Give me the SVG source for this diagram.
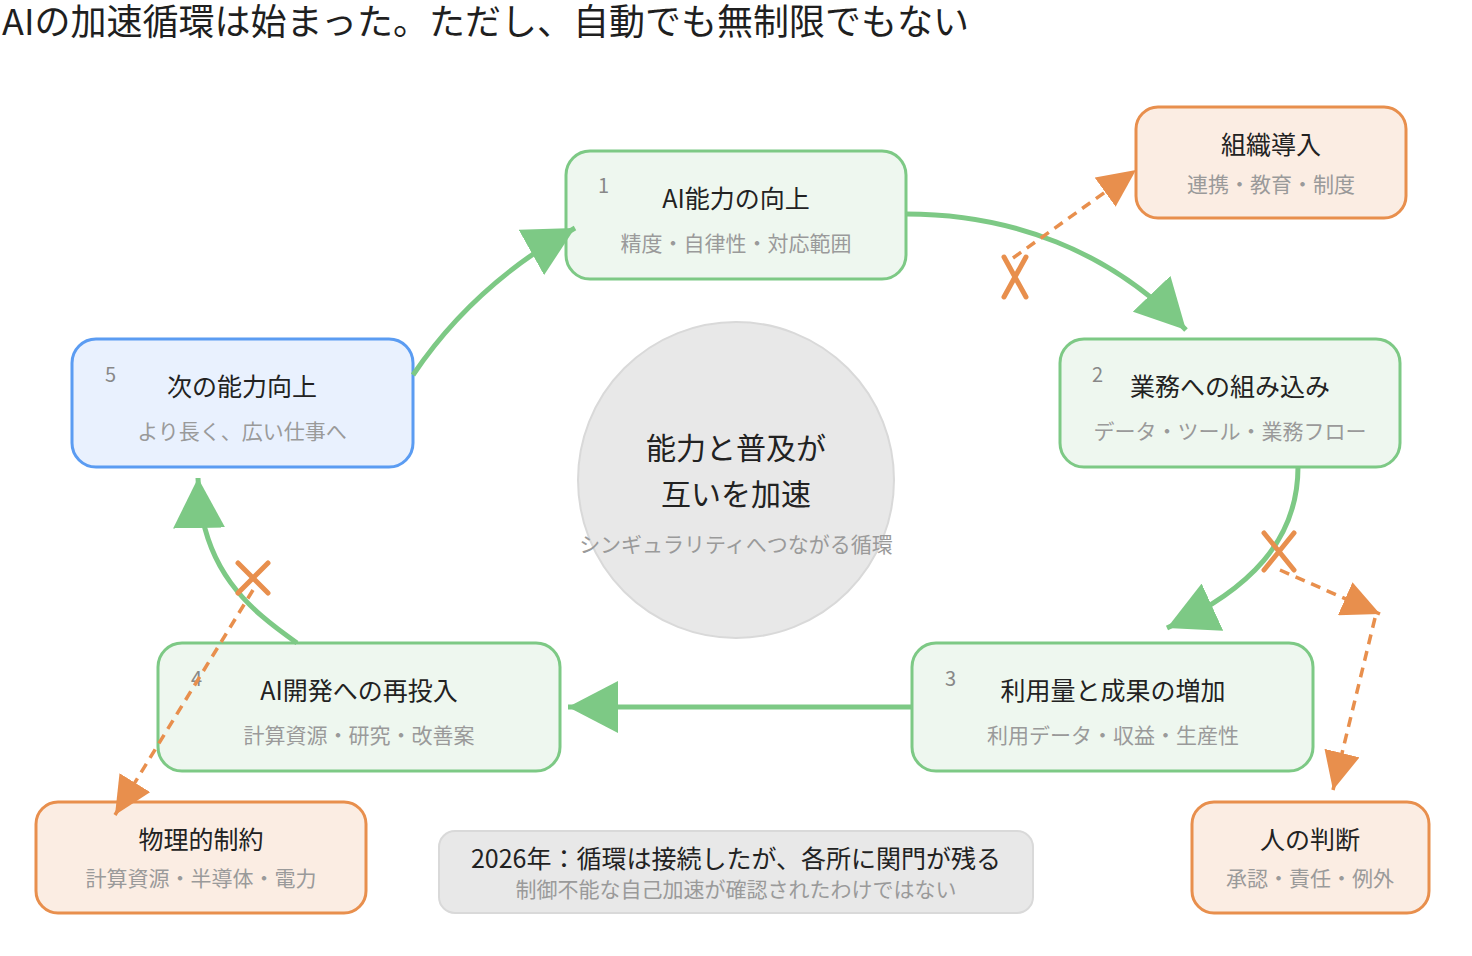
<svg xmlns="http://www.w3.org/2000/svg" width="1472" height="956" viewBox="0 0 1472 956">
<style>
text{font-family:"Noto Sans CJK JP","Noto Sans",sans-serif}
.title{font-size:36px;fill:#1f1f1f}
.nt{font-size:25px;fill:#222;text-anchor:middle}
.ns{font-size:21px;fill:#9a9a9a;text-anchor:middle}
.num{font-size:20px;fill:#888}
.g{fill:#eef7ef;stroke:#7dc985;stroke-width:3}
.b{fill:#e9f1fe;stroke:#5b9cf2;stroke-width:3}
.o{fill:#fbede3;stroke:#e88f4d;stroke-width:3}
.gl{fill:none;stroke:#7dc985;stroke-width:5;marker-end:url(#ga)}
.ol{fill:none;stroke:#e88f4d;stroke-width:3.5;stroke-dasharray:10 7;marker-end:url(#oa)}
.x{fill:none;stroke:#e88f4d;stroke-width:5;stroke-linecap:round}
</style>
<defs>
<marker id="ga" markerUnits="userSpaceOnUse" markerWidth="52" markerHeight="52" refX="50" refY="26" orient="auto"><path d="M0,0 L50,26 L0,52 z" fill="#7dc985"/></marker>
<marker id="oa" markerUnits="userSpaceOnUse" markerWidth="40" markerHeight="36" refX="38" refY="18" orient="auto"><path d="M0,0 L38,18 L0,36 z" fill="#e88f4d"/></marker>
</defs>
<rect width="1472" height="956" fill="#ffffff"/>
<text class="title" x="2" y="35">AIの加速循環は始まった。ただし、自動でも無制限でもない</text>

<g id="center">
<circle cx="736" cy="480" r="158" fill="#e8e8e8" stroke="#d9d9d9" stroke-width="2"/>
<text x="736" y="459" font-size="30" fill="#222" text-anchor="middle">能力と普及が</text>
<text x="736" y="505" font-size="30" fill="#222" text-anchor="middle">互いを加速</text>
<text x="736" y="552" class="ns">シンギュラリティへつながる循環</text>
</g>

<g id="node1">
<rect class="g" x="566" y="151" width="340" height="128" rx="24"/>
<text class="num" x="598" y="193">1</text>
<text class="nt" x="736" y="208">AI能力の向上</text>
<text class="ns" x="736" y="251">精度・自律性・対応範囲</text>
</g>
<g id="node2">
<rect class="g" x="1060" y="339" width="340" height="128" rx="24"/>
<text class="num" x="1092" y="382">2</text>
<text class="nt" x="1230" y="396">業務への組み込み</text>
<text class="ns" x="1230" y="439">データ・ツール・業務フロー</text>
</g>
<g id="node3">
<rect class="g" x="912" y="643" width="401" height="128" rx="24"/>
<text class="num" x="945" y="686">3</text>
<text class="nt" x="1113" y="700">利用量と成果の増加</text>
<text class="ns" x="1113" y="743">利用データ・収益・生産性</text>
</g>
<g id="node4">
<rect class="g" x="158" y="643" width="402" height="128" rx="24"/>
<text class="num" x="191" y="686">4</text>
<text class="nt" x="359" y="700">AI開発への再投入</text>
<text class="ns" x="359" y="743">計算資源・研究・改善案</text>
</g>
<g id="node5">
<rect class="b" x="72" y="339" width="341" height="128" rx="24"/>
<text class="num" x="105" y="382">5</text>
<text class="nt" x="242" y="396">次の能力向上</text>
<text class="ns" x="242" y="439">より長く、広い仕事へ</text>
</g>
<g id="org">
<rect class="o" x="1136" y="107" width="270" height="111" rx="22"/>
<text class="nt" x="1271" y="154">組織導入</text>
<text class="ns" x="1271" y="192">連携・教育・制度</text>
</g>
<g id="physical">
<rect class="o" x="36" y="802" width="330" height="111" rx="22"/>
<text class="nt" x="201" y="849">物理的制約</text>
<text class="ns" x="201" y="886">計算資源・半導体・電力</text>
</g>
<g id="human">
<rect class="o" x="1192" y="802" width="237" height="111" rx="22"/>
<text class="nt" x="1310" y="849">人の判断</text>
<text class="ns" x="1310" y="886">承認・責任・例外</text>
</g>
<g id="note">
<rect x="439" y="831" width="594" height="82" rx="16" fill="#e8e8e8" stroke="#d9d9d9" stroke-width="2"/>
<text x="736" y="868" font-size="25" fill="#222" text-anchor="middle">2026年：循環は接続したが、各所に関門が残る</text>
<text class="ns" x="736" y="897">制御不能な自己加速が確認されたわけではない</text>
</g>

<g id="connectors">
<path class="gl" d="M906,214 C1010,214 1110,250 1186,330"/>
<path class="gl" d="M1298,467 C1298,540 1250,590 1167,628"/>
<path class="gl" d="M912,707 L568,707"/>
<path class="gl" d="M297,643 C250,610 200,570 198,478"/>
<path class="gl" d="M413,375 C450,320 500,270 575,228"/>
<path class="ol" d="M1013,258 L1136,170"/>
<path class="ol" d="M1280,570 L1380,614"/>
<path class="ol" d="M1375,618 L1333,790"/>
<path class="ol" d="M253,590 L115,815"/>
<path class="x" d="M1004,257 L1026,297 M1026,257 L1004,297"/>
<path class="x" d="M1264,533 L1294,570 M1294,533 L1264,570"/>
<path class="x" d="M238,563 L268,593 M268,563 L238,593"/>
</g>
</svg>
